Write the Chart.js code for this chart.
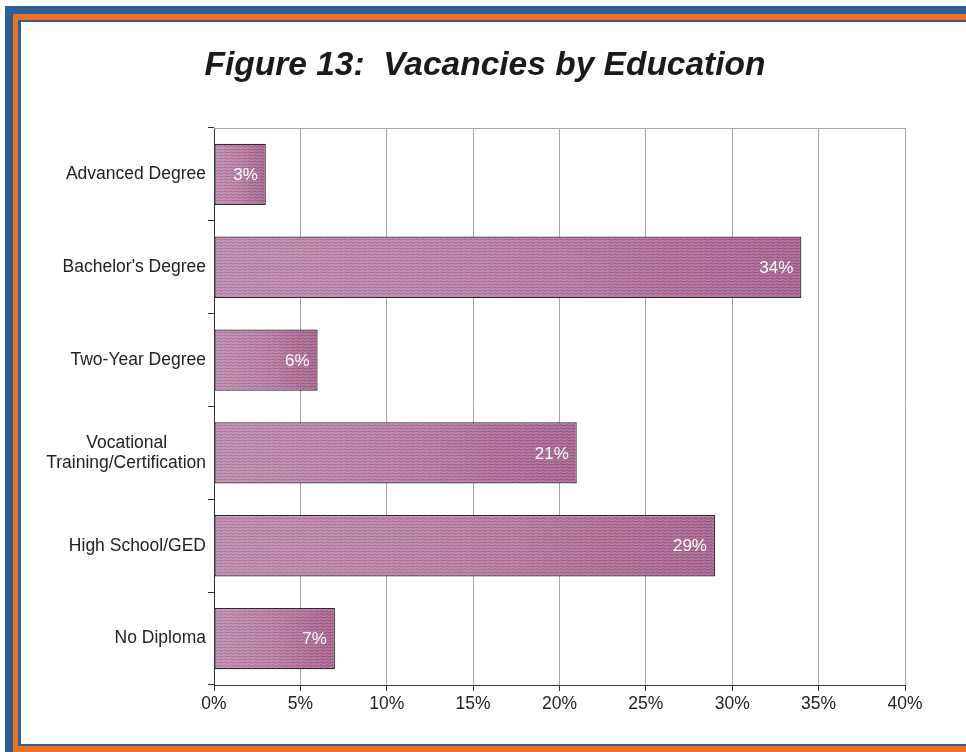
<!DOCTYPE html>
<html>
<head>
<meta charset="utf-8">
<script src="https://cdn.jsdelivr.net/npm/chart.js@4/dist/chart.umd.min.js"></script>
<style>
  html, body { margin: 0; padding: 0; background: #ffffff; width: 966px; height: 752px; overflow: hidden; }
  #f1 { position: absolute; left: 5px; top: 6px; width: 1100px; height: 760px; background: #2e5e96; }
  #f2 { position: absolute; left: 13px; top: 14px; width: 1100px; height: 738px; background: #f07021; }
  #f3 { position: absolute; left: 18px; top: 20px; width: 1100px; height: 726px; background: #2e5e96; }
  #f4 { position: absolute; left: 21px; top: 22px; width: 945px; height: 722px; background: #ffffff; }
  #wrap { position: absolute; left: 21px; top: 22px; width: 945px; height: 722px; }
</style>
</head>
<body>
<div id="f1"></div><div id="f2"></div><div id="f3"></div><div id="f4"></div>
<div id="wrap"><canvas id="c"></canvas></div>
<script>
const titleText = 'Figure 13:  Vacancies by Education';
const categories = [
  'Advanced Degree',
  "Bachelor's Degree",
  'Two-Year Degree',
  ['Vocational        ', 'Training/Certification'],
  'High School/GED',
  'No Diploma'
];
const vacancyShare = [3, 34, 6, 21, 29, 7];
const xTickValues = [0, 5, 10, 15, 20, 25, 30, 35, 40];

const FONT = '"Liberation Sans", Arial, sans-serif';
const patternCache = {};

function barFill(context) {
  const chart = context.chart;
  const xs = chart.scales.x;
  if (!xs || !chart.chartArea) return '#b97ca2';
  const x0 = Math.round(xs.getPixelForValue(0));
  const x1 = Math.round(xs.getPixelForValue(context.raw));
  const w = Math.max(2, x1 - x0);
  const key = x0 + '_' + w;
  if (patternCache[key]) return patternCache[key];
  const p = document.createElement('canvas');
  p.width = w; p.height = 3;
  const g = p.getContext('2d');
  const grad = g.createLinearGradient(0, 0, w, 0);
  grad.addColorStop(0, '#bc8aad');
  grad.addColorStop(0.5, '#b77ca3');
  grad.addColorStop(1, '#a5628e');
  g.fillStyle = grad;
  g.fillRect(0, 0, w, 3);
  g.fillStyle = 'rgba(255,255,255,0.15)';
  for (let x = 0; x < w; x += 6) { g.fillRect(x, 0, 4, 1); g.fillRect(x + 3, 2, 3, 1); }
  g.fillStyle = 'rgba(90,20,60,0.10)';
  g.fillRect(0, 1, w, 1);
  const pat = chart.ctx.createPattern(p, 'repeat');
  pat.setTransform(new DOMMatrix().translate(x0, 0));
  patternCache[key] = pat;
  return pat;
}

const topLineAndTitle = {
  id: 'topLineAndTitle',
  beforeDatasetsDraw(chart) {
    const a = chart.chartArea, ctx = chart.ctx;
    ctx.save();
    ctx.strokeStyle = '#a6a6a6';
    ctx.lineWidth = 1;
    ctx.beginPath();
    ctx.moveTo(a.left, Math.round(a.top) + 0.5);
    ctx.lineTo(a.right, Math.round(a.top) + 0.5);
    ctx.stroke();
    ctx.font = 'italic bold 33.5px ' + FONT;
    ctx.fillStyle = '#1a1a1a';
    ctx.textAlign = 'center';
    ctx.textBaseline = 'middle';
    ctx.fillText(titleText, 464, 44);
    ctx.restore();
  }
};

const barLabels = {
  id: 'barLabels',
  afterDatasetsDraw(chart) {
    const ctx = chart.ctx;
    const meta = chart.getDatasetMeta(0);
    ctx.save();
    ctx.font = '17px ' + FONT;
    ctx.fillStyle = '#ffffff';
    ctx.textAlign = 'right';
    ctx.textBaseline = 'middle';
    meta.data.forEach((bar, i) => {
      ctx.fillText(vacancyShare[i] + '%', bar.x - 8, bar.y + 1);
    });
    ctx.restore();
  }
};

new Chart(document.getElementById('c'), {
  type: 'bar',
  data: {
    labels: categories,
    datasets: [{
      data: vacancyShare,
      backgroundColor: barFill,
      borderColor: '#33252e',
      borderWidth: 1.2,
      borderSkipped: false,
      barPercentage: 0.66,
      categoryPercentage: 1
    }]
  },
  options: {
    indexAxis: 'y',
    responsive: true,
    maintainAspectRatio: false,
    animation: false,
    layout: { padding: { left: 10, right: 61, top: 106, bottom: 0 } },
    plugins: {
      legend: { display: false },
      tooltip: { enabled: false },
      title: { display: false }
    },
    scales: {
      x: {
        min: 0, max: 40,
        afterBuildTicks(scale) { scale.ticks = xTickValues.map(v => ({ value: v })); },
        afterFit(scale) { scale.height = 59; },
        ticks: {
          color: '#222222',
          font: { family: FONT, size: 17.5 },
          padding: 3,
          maxRotation: 0,
          callback: (v) => v + '%'
        },
        grid: { color: '#a6a6a6', tickColor: '#333333', tickLength: 6, lineWidth: 1 },
        border: { color: '#333333', width: 1 }
      },
      y: {
        afterFit(scale) { scale.width = 183; },
        ticks: {
          color: '#222222',
          font: { family: FONT, size: 17.5, lineHeight: 1.17 },
          padding: 2
        },
        grid: { drawOnChartArea: false, tickColor: '#333333', tickLength: 6, offset: true },
        border: { color: '#333333', width: 1 }
      }
    }
  },
  plugins: [topLineAndTitle, barLabels]
});
</script>
</body>
</html>
